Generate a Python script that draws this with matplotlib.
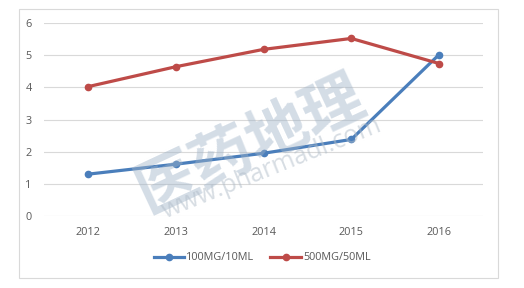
import matplotlib
matplotlib.use("Agg")
import matplotlib.pyplot as plt
from matplotlib.patches import Rectangle

years = ["2012", "2013", "2014", "2015", "2016"]
s100 = [1.30, 1.61, 1.95, 2.38, 5.02]
s500 = [4.02, 4.64, 5.18, 5.52, 4.74]
labels = ["100MG/10ML", "500MG/50ML"]
yticks = [0, 1, 2, 3, 4, 5, 6]

plt.rcParams['font.family'] = ['Open Sans', 'DejaVu Sans']

fig = plt.figure(figsize=(5.24, 2.88), dpi=100)
fig.patch.set_facecolor("white")
fig.patches.append(Rectangle((19/524, 1-278/288), (498-19)/524, (278-9)/288,
                             transform=fig.transFigure, fill=False,
                             edgecolor="#d9d9d9", linewidth=0.8))
ax = fig.add_axes([44/524, 1-216/288, (483-44)/524, (216-23)/288])
x = list(range(len(years)))
ax.plot(x, s100, color="#4A7EBB", lw=2.3, marker="o", ms=4.5, label=labels[0], zorder=3)
ax.plot(x, s500, color="#BE4B48", lw=2.3, marker="o", ms=4.5, label=labels[1], zorder=3)
ax.set_xlim(-0.5, 4.5)
ax.set_ylim(0, 6)
ax.set_yticks(yticks)
ax.set_xticks(x)
ax.set_xticklabels(years)
ax.grid(axis="y", color="#d9d9d9", lw=0.8)
ax.set_axisbelow(True)
for s in ax.spines.values():
    s.set_visible(False)
ax.tick_params(length=0, labelsize=7.8, colors="#595959", pad=8)
ax.tick_params(axis="y", pad=9)

# watermark
fig.text(250/524, 1-145/288, "医药地理", family=['Noto Sans CJK SC', 'DejaVu Sans'],
         fontsize=44, fontweight="bold", color="#9fb3c8", alpha=0.45,
         rotation=25, ha="center", va="center")
fig.text(272/524, 1-168/288, "www.pharmadl.com", fontsize=18, color="#b0bcc8",
         alpha=0.5, rotation=22, ha="center", va="center")

fig.legend(loc="center", bbox_to_anchor=(262/524, 1-258/288), ncol=2, frameon=False,
           fontsize=7.8, labelcolor="#595959", handlelength=2.8, handletextpad=0.2,
           columnspacing=1.5)
fig.savefig("out.png", dpi=100)
